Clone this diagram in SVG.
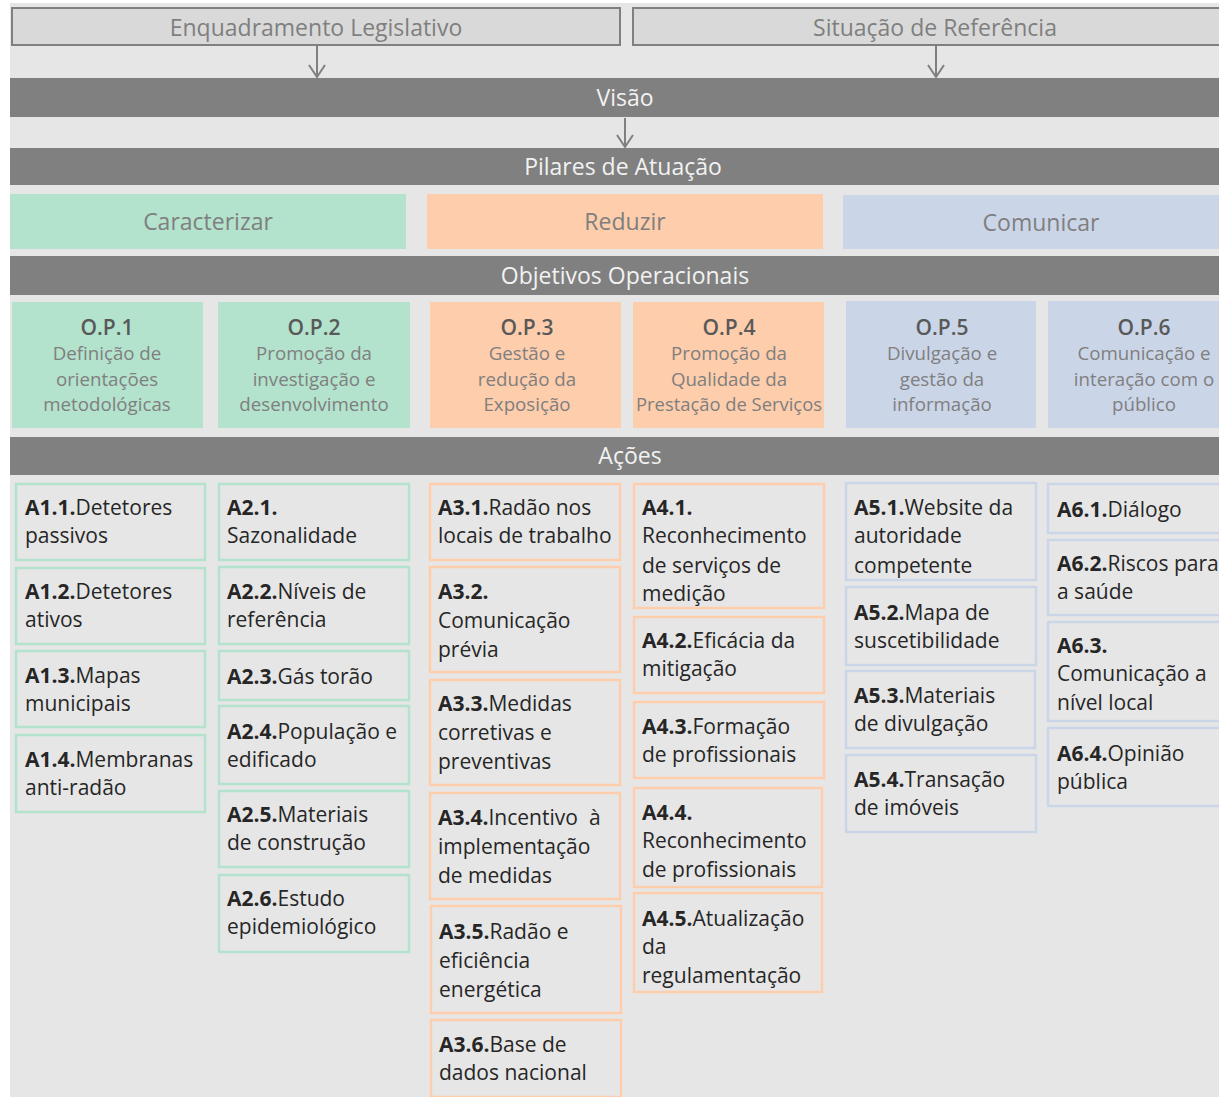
<svg xmlns="http://www.w3.org/2000/svg" width="1219" height="1097" viewBox="0 0 1219 1097">
<defs>
<marker id="arr" viewBox="0 0 14 18" refX="13" refY="9" markerWidth="14" markerHeight="18" markerUnits="userSpaceOnUse" orient="auto">
<path d="M1,1 L13,9 L1,17" fill="none" stroke="#808080" stroke-width="2"/>
</marker>
<style>
text{font-family:"Open Sans",Lato,"Liberation Sans",sans-serif}
.top{fill:#d9d9d9;stroke:#808080;stroke-width:2}
.toptx{font-size:23px;fill:#7f7f7f;text-anchor:middle}
.bar{fill:#808080}
.bartx{font-size:23px;fill:#f2f2f2;text-anchor:middle}
.g{fill:#b3e2cd}.o{fill:#fdcdac}.b{fill:#cbd5e8}
.pil{font-size:23px;fill:#7f7f7f;text-anchor:middle}
.opt{font-size:21px;fill:#595959;text-anchor:middle;font-weight:600}
.opd{font-size:18.7px;fill:#7f7f7f;text-anchor:middle}
.ag{fill:none;stroke:#b3e2cd;stroke-width:2.5}
.ao{fill:none;stroke:#fdcdac;stroke-width:2.5}
.ab{fill:none;stroke:#cbd5e8;stroke-width:2.5}
.at{font-size:21px;fill:#262626}
.at tspan.k{font-weight:bold}
.con{stroke:#808080;stroke-width:2;fill:none}
</style>
</defs>
<rect x="0" y="0" width="1219" height="1097" fill="#ffffff"/>
<rect x="10" y="3" width="1209" height="1094" fill="#e6e6e6"/>

<g id="enquadramento"><rect class="top" x="12" y="8" width="608" height="37"/><text class="toptx" x="316" y="36">Enquadramento Legislativo</text></g>
<g id="situacao"><rect class="top" x="633" y="8" width="590" height="37"/><text class="toptx" x="935" y="36">Situação de Referência</text></g>
<g id="visao"><rect class="bar" x="10" y="78" width="1209" height="39"/><text class="bartx" x="625" y="106">Visão</text></g>
<g id="pilares"><rect class="bar" x="10" y="148" width="1209" height="37"/><text class="bartx" x="623" y="175">Pilares de Atuação</text></g>
<g id="caracterizar"><rect class="g" x="10" y="194" width="396" height="55"/><text class="pil" x="208" y="230">Caracterizar</text></g>
<g id="reduzir"><rect class="o" x="427" y="194" width="396" height="55"/><text class="pil" x="625" y="230">Reduzir</text></g>
<g id="comunicar"><rect class="b" x="843" y="195" width="376" height="54"/><text class="pil" x="1041" y="231">Comunicar</text></g>
<g id="objetivos"><rect class="bar" x="10" y="256" width="1209" height="39"/><text class="bartx" x="625" y="284">Objetivos Operacionais</text></g>

<g id="op1"><rect class="g" x="12" y="302" width="191" height="126"/><text class="opt" x="107" y="335">O.P.1</text><text class="opd"><tspan x="107" y="360">Definição de</tspan><tspan x="107" y="386">orientações</tspan><tspan x="107" y="411">metodológicas</tspan></text></g>
<g id="op2"><rect class="g" x="218" y="302" width="192" height="126"/><text class="opt" x="314" y="335">O.P.2</text><text class="opd"><tspan x="314" y="360">Promoção da</tspan><tspan x="314" y="386">investigação e</tspan><tspan x="314" y="411">desenvolvimento</tspan></text></g>
<g id="op3"><rect class="o" x="430" y="302" width="191" height="126"/><text class="opt" x="527" y="335">O.P.3</text><text class="opd"><tspan x="527" y="360">Gestão e</tspan><tspan x="527" y="386">redução da</tspan><tspan x="527" y="411">Exposição</tspan></text></g>
<g id="op4"><rect class="o" x="633" y="302" width="191" height="126"/><text class="opt" x="729" y="335">O.P.4</text><text class="opd"><tspan x="729" y="360">Promoção da</tspan><tspan x="729" y="386">Qualidade da</tspan><tspan x="729" y="411" textLength="186" lengthAdjust="spacingAndGlyphs">Prestação de Serviços</tspan></text></g>
<g id="op5"><rect class="b" x="846" y="301" width="190" height="127"/><text class="opt" x="942" y="335">O.P.5</text><text class="opd"><tspan x="942" y="360">Divulgação e</tspan><tspan x="942" y="386">gestão da</tspan><tspan x="942" y="411">informação</tspan></text></g>
<g id="op6"><rect class="b" x="1048" y="301" width="171" height="127"/><text class="opt" x="1144" y="335">O.P.6</text><text class="opd"><tspan x="1144" y="360">Comunicação e</tspan><tspan x="1144" y="386">interação com o</tspan><tspan x="1144" y="411">público</tspan></text></g>

<g id="acoes"><rect class="bar" x="10" y="437" width="1209" height="38"/><text class="bartx" x="630" y="464">Ações</text></g>

<g id="a11"><rect class="ag" x="16" y="484" width="189" height="76"/><text class="at" x="25" y="515"><tspan class="k">A1.1.</tspan>Detetores<tspan x="25" y="543">passivos</tspan></text></g>
<g id="a12"><rect class="ag" x="16" y="568" width="189" height="76"/><text class="at" x="25" y="599"><tspan class="k">A1.2.</tspan>Detetores<tspan x="25" y="627">ativos</tspan></text></g>
<g id="a13"><rect class="ag" x="16" y="651" width="189" height="76"/><text class="at" x="25" y="683"><tspan class="k">A1.3.</tspan>Mapas<tspan x="25" y="711">municipais</tspan></text></g>
<g id="a14"><rect class="ag" x="16" y="735" width="189" height="77"/><text class="at" x="25" y="767"><tspan class="k">A1.4.</tspan>Membranas<tspan x="25" y="795">anti-radão</tspan></text></g>

<g id="a21"><rect class="ag" x="219" y="484" width="190" height="76"/><text class="at" x="227" y="515"><tspan class="k">A2.1.</tspan><tspan x="227" y="543">Sazonalidade</tspan></text></g>
<g id="a22"><rect class="ag" x="219" y="567" width="190" height="77"/><text class="at" x="227" y="599"><tspan class="k">A2.2.</tspan>Níveis de<tspan x="227" y="627">referência</tspan></text></g>
<g id="a23"><rect class="ag" x="219" y="651" width="190" height="49"/><text class="at" x="227" y="684"><tspan class="k">A2.3.</tspan>Gás torão</text></g>
<g id="a24"><rect class="ag" x="219" y="706" width="190" height="78"/><text class="at" x="227" y="739"><tspan class="k">A2.4.</tspan>População e<tspan x="227" y="767">edificado</tspan></text></g>
<g id="a25"><rect class="ag" x="219" y="791" width="190" height="76"/><text class="at" x="227" y="822"><tspan class="k">A2.5.</tspan>Materiais<tspan x="227" y="850">de construção</tspan></text></g>
<g id="a26"><rect class="ag" x="219" y="875" width="190" height="77"/><text class="at" x="227" y="906"><tspan class="k">A2.6.</tspan>Estudo<tspan x="227" y="934">epidemiológico</tspan></text></g>

<g id="a31"><rect class="ao" x="430" y="484" width="190" height="76"/><text class="at" x="438" y="515"><tspan class="k">A3.1.</tspan>Radão nos<tspan x="438" y="543">locais de trabalho</tspan></text></g>
<g id="a32"><rect class="ao" x="430" y="567" width="190" height="105"/><text class="at" x="438" y="599"><tspan class="k">A3.2.</tspan><tspan x="438" y="628">Comunicação</tspan><tspan x="438" y="657">prévia</tspan></text></g>
<g id="a33"><rect class="ao" x="430" y="680" width="190" height="105"/><text class="at" x="438" y="711"><tspan class="k">A3.3.</tspan>Medidas<tspan x="438" y="740">corretivas e</tspan><tspan x="438" y="769">preventivas</tspan></text></g>
<g id="a34"><rect class="ao" x="430" y="793" width="190" height="106"/><text class="at" x="438" y="825"><tspan class="k">A3.4.</tspan>Incentivo<tspan x="589" y="825">à</tspan><tspan x="438" y="854">implementação</tspan><tspan x="438" y="883">de medidas</tspan></text></g>
<g id="a35"><rect class="ao" x="431" y="906" width="190" height="107"/><text class="at" x="439" y="939"><tspan class="k">A3.5.</tspan>Radão e<tspan x="439" y="968">eficiência</tspan><tspan x="439" y="997">energética</tspan></text></g>
<g id="a36"><rect class="ao" x="431" y="1020" width="190" height="77"/><text class="at" x="439" y="1052"><tspan class="k">A3.6.</tspan>Base de<tspan x="439" y="1080">dados nacional</tspan></text></g>

<g id="a41"><rect class="ao" x="634" y="484" width="190" height="124"/><text class="at" x="642" y="515"><tspan class="k">A4.1.</tspan><tspan x="642" y="543">Reconhecimento</tspan><tspan x="642" y="573">de serviços de</tspan><tspan x="642" y="601">medição</tspan></text></g>
<g id="a42"><rect class="ao" x="634" y="617" width="190" height="76"/><text class="at" x="642" y="648"><tspan class="k">A4.2.</tspan>Eficácia da<tspan x="642" y="676">mitigação</tspan></text></g>
<g id="a43"><rect class="ao" x="634" y="702" width="190" height="76"/><text class="at" x="642" y="734"><tspan class="k">A4.3.</tspan>Formação<tspan x="642" y="762">de profissionais</tspan></text></g>
<g id="a44"><rect class="ao" x="634" y="788" width="188" height="99"/><text class="at" x="642" y="820"><tspan class="k">A4.4.</tspan><tspan x="642" y="848">Reconhecimento</tspan><tspan x="642" y="877">de profissionais</tspan></text></g>
<g id="a45"><rect class="ao" x="634" y="893" width="188" height="99"/><text class="at" x="642" y="926"><tspan class="k">A4.5.</tspan>Atualização<tspan x="642" y="954">da</tspan><tspan x="642" y="983">regulamentação</tspan></text></g>

<g id="a51"><rect class="ab" x="846" y="483" width="190" height="97"/><text class="at" x="854" y="515"><tspan class="k">A5.1.</tspan>Website da<tspan x="854" y="543">autoridade</tspan><tspan x="854" y="573">competente</tspan></text></g>
<g id="a52"><rect class="ab" x="846" y="587" width="190" height="78"/><text class="at" x="854" y="620"><tspan class="k">A5.2.</tspan>Mapa de<tspan x="854" y="648">suscetibilidade</tspan></text></g>
<g id="a53"><rect class="ab" x="846" y="671" width="189" height="77"/><text class="at" x="854" y="703"><tspan class="k">A5.3.</tspan>Materiais<tspan x="854" y="731">de divulgação</tspan></text></g>
<g id="a54"><rect class="ab" x="846" y="755" width="190" height="77"/><text class="at" x="854" y="787"><tspan class="k">A5.4.</tspan>Transação<tspan x="854" y="815">de imóveis</tspan></text></g>

<g id="a61"><rect class="ab" x="1048" y="484" width="175" height="49"/><text class="at" x="1057" y="517"><tspan class="k">A6.1.</tspan>Diálogo</text></g>
<g id="a62"><rect class="ab" x="1048" y="540" width="175" height="75"/><text class="at" x="1057" y="571"><tspan class="k">A6.2.</tspan>Riscos para<tspan x="1057" y="599">a saúde</tspan></text></g>
<g id="a63"><rect class="ab" x="1048" y="622" width="175" height="99"/><text class="at" x="1057" y="653"><tspan class="k">A6.3.</tspan><tspan x="1057" y="681">Comunicação a</tspan><tspan x="1057" y="710">nível local</tspan></text></g>
<g id="a64"><rect class="ab" x="1048" y="728" width="175" height="78"/><text class="at" x="1057" y="761"><tspan class="k">A6.4.</tspan>Opinião<tspan x="1057" y="789">pública</tspan></text></g>

<g id="connectors">
<line class="con" x1="317" y1="46" x2="317" y2="77" marker-end="url(#arr)"/>
<line class="con" x1="936" y1="46" x2="936" y2="77" marker-end="url(#arr)"/>
<line class="con" x1="625" y1="118" x2="625" y2="147" marker-end="url(#arr)"/>
</g>
</svg>
